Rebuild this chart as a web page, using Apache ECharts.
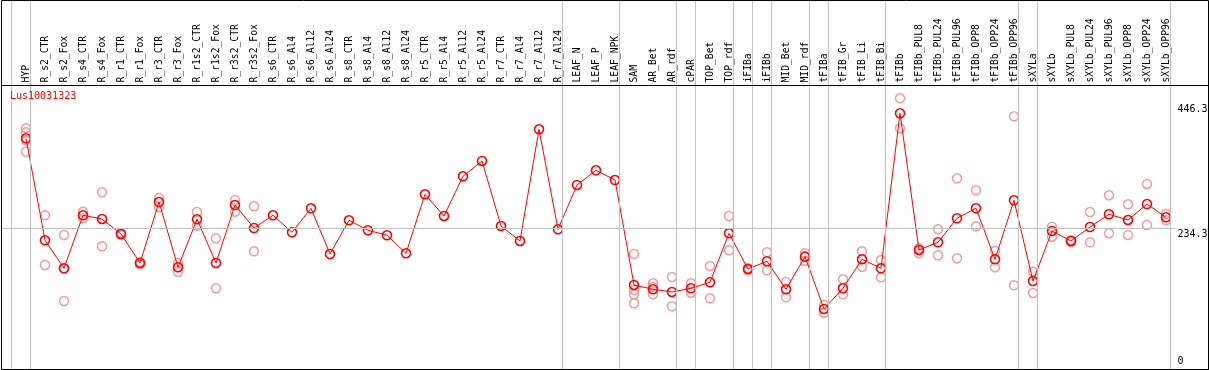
<!DOCTYPE html>
<html>
<head>
<meta charset="utf-8">
<script src="https://cdn.jsdelivr.net/npm/echarts@6/dist/echarts.min.js"></script>
<style>
  html, body { margin: 0; padding: 0; background: #fff; }
  #chart { width: 1209px; height: 370px; }
</style>
</head>
<body>
<div id="chart"></div>
<script>
// ---------------- data ----------------
const geneName = 'Lus10031323';

const categories = [
  'HYP', 'R_s2_CTR', 'R_s2_Fox', 'R_s4_CTR', 'R_s4_Fox', 'R_r1_CTR', 'R_r1_Fox', 'R_r3_CTR', 'R_r3_Fox',
  'R_r1s2_CTR', 'R_r1s2_Fox', 'R_r3s2_CTR', 'R_r3s2_Fox', 'R_s6_CTR', 'R_s6_Al4', 'R_s6_Al12', 'R_s6_Al24',
  'R_s8_CTR', 'R_s8_Al4', 'R_s8_Al12', 'R_s8_Al24', 'R_r5_CTR', 'R_r5_Al4', 'R_r5_Al12', 'R_r5_Al24',
  'R_r7_CTR', 'R_r7_Al4', 'R_r7_Al12', 'R_r7_Al24', 'LEAF_N', 'LEAF_P', 'LEAF_NPK', 'SAM', 'AR_Bet', 'AR_rdf',
  'cPAR', 'TOP_Bet', 'TOP_rdf', 'iFIBa', 'iFIBb', 'MID_Bet', 'MID_rdf', 'tFIBa', 'tFIB_Gr', 'tFIB_Li', 'tFIB_Bi',
  'tFIBb', 'tFIBb_PUL8', 'tFIBb_PUL24', 'tFIBb_PUL96', 'tFIBb_OPP8', 'tFIBb_OPP24', 'tFIBb_OPP96',
  'sXYLa', 'sXYLb', 'sXYLb_PUL8', 'sXYLb_PUL24', 'sXYLb_PUL96', 'sXYLb_OPP8', 'sXYLb_OPP24', 'sXYLb_OPP96'
];

const meanValues = [
  386.9, 213.9, 166.4, 256.3, 250.0, 224.6, 175.4, 278.8, 168.1,
  249.5, 175.4, 273.7, 234.7, 256.3, 227.4, 268.1, 190.6,
  247.8, 230.8, 222.4, 191.8, 291.9, 255.1, 322.4, 348.4,
  238.1, 212.7, 402.1, 232.5, 307.7, 332.6, 316.1, 138.1, 130.8, 126.2,
  132.5, 142.6, 225.7, 165.2, 178.3, 130.8, 186.1, 97.4, 132.5, 181.6, 166.4,
  429.3, 197.4, 210.5, 251.2, 268.1, 181.6, 281.7,
  144.8, 229.6, 212.7, 236.4, 258.0, 248.3, 275.4, 252.9
];

const replicateValues = [
  [404, 397, 383, 364], [256.3, 172.0], [222.9, 110.9, 166], [262.4, 251.2], [295.3, 203.7],
  [226, 223], [177, 173], [286.1, 269.8], [175.4, 160.1],
  [261.9, 238.6], [217.3, 132.5], [282.2, 262.4], [271.5, 195.2], [], [], [], [],
  [], [], [], [], [], [], [], [],
  [], [], [], [], [], [], [], [190.6, 129.6, 122.3, 107.0], [140.9, 122.3, 135], [151.6, 101.9],
  [140.9, 125.0], [170.3, 115.5], [255.1, 196.9], [167, 163], [193.5, 163.0], [143.1, 117.2], [191.8, 179.3],
  [104.1, 91.1], [147.7, 122.3], [195.2, 169.1], [180.5, 151.1],
  [454.7, 403.8], [200.3, 191.8], [232.5, 188.4], [319.0, 183.3], [298.7, 237.6], [195.7, 168.1], [424.2, 137.5],
  [160.6, 124.5], [236.9, 220.0], [214, 211], [261.9, 210.5], [290.2, 225.7], [274.9, 222.9], [309.4, 239.8], [258.5, 247.8]
];

// y tick labels shown on the right (the middle one carries a grid line)
const yTickValues = [0, 234.3, 446.3];

// last category of each group (a separator follows it); -1 = before first
const groupEnds = [-1, 0, 28, 31, 34, 35, 37, 38, 39, 41, 42, 45, 52, 53, 60];

// ---------------- layout / style ----------------
const FONT = '"DejaVu Sans Mono", "Liberation Mono", monospace';
const STEP = 19;                 // px per category
const FIRST_X = 26;              // px of first category centre
const PLOT_LEFT = 1.5, PLOT_RIGHT = 0.5;
const PLOT_W = 1209 - PLOT_LEFT - PLOT_RIGHT;
const XMIN = -(FIRST_X - PLOT_LEFT) / STEP;
const XMAX = XMIN + PLOT_W / STEP;
const YMIN = -5.26, YMAX = 476.4;
const SEP_OFFSET = 4.5 / STEP;
const CHAR_W = 6.02;

const meanData = meanValues.map((v, i) => [i, v]);
const repData = [];
replicateValues.forEach((arr, i) => arr.forEach(v => repData.push([i, v])));

const sepLines = groupEnds.map(g => ({ xAxis: g + SEP_OFFSET }));

const maxLabelLen = Math.max(...yTickValues.map(v => String(v).length));
const tickMarks = yTickValues.map((v, k) => {
  const isMid = k === 1;
  const isZero = v === 0;
  const txt = String(v);
  return {
    yAxis: v,
    lineStyle: { color: isMid ? '#c0c0c0' : 'rgba(0,0,0,0)', width: 1, type: 'solid' },
    label: {
      show: true,
      formatter: txt,
      position: isZero ? 'insideEndTop' : 'insideEndBottom',
      distance: [1, 0],
      color: '#000',
      fontFamily: FONT,
      fontSize: 10,
      backgroundColor: isMid ? '#fff' : 'rgba(0,0,0,0)',
      padding: [1, (maxLabelLen - txt.length) * CHAR_W, 0, 2]
    }
  };
});

const chart = echarts.init(document.getElementById('chart'), null, { renderer: 'canvas' });

chart.setOption({
  animation: false,
  backgroundColor: '#fff',
  title: {
    text: geneName,
    left: 10,
    top: 91,
    padding: 0,
    textStyle: { color: '#ff0000', fontFamily: FONT, fontSize: 10, fontWeight: 'normal' }
  },
  grid: [
    { left: PLOT_LEFT, right: PLOT_RIGHT, top: 0.5, bottom: 0.5, show: true, borderColor: '#000', borderWidth: 1, backgroundColor: 'transparent', z: 10 },
    { left: PLOT_LEFT, right: PLOT_RIGHT, top: 85.5, bottom: 0.5, show: true, borderColor: '#000', borderWidth: 1, backgroundColor: 'transparent', z: 10 },
    { left: FIRST_X - STEP / 2, width: STEP * categories.length, top: 0, height: 85.5, show: false }
  ],
  xAxis: [
    { type: 'value', gridIndex: 0, min: XMIN, max: XMAX, show: false },
    { type: 'value', gridIndex: 1, min: XMIN, max: XMAX, show: false },
    {
      type: 'category', gridIndex: 2, data: categories, position: 'bottom', boundaryGap: true,
      axisLine: { show: false }, axisTick: { show: false }, splitLine: { show: false },
      axisLabel: { interval: 0, inside: true, rotate: 90, margin: 3, color: '#000', fontFamily: FONT, fontSize: 9.7 }
    }
  ],
  yAxis: [
    { type: 'value', gridIndex: 0, min: 0, max: 1, show: false },
    { type: 'value', gridIndex: 1, min: YMIN, max: YMAX, show: false },
    { type: 'value', gridIndex: 2, min: 0, max: 1, show: false }
  ],
  series: [
    {
      type: 'line', xAxisIndex: 0, yAxisIndex: 0, data: [], silent: true, z: 1,
      markLine: {
        silent: true, symbol: ['none', 'none'], animation: false,
        lineStyle: { color: '#c0c0c0', width: 1, type: 'solid' },
        label: { show: false },
        data: sepLines
      }
    },
    {
      type: 'line', xAxisIndex: 1, yAxisIndex: 1, data: [], silent: true, z: 2,
      markLine: {
        silent: true, symbol: ['none', 'none'], animation: false,
        data: tickMarks
      }
    },
    {
      name: 'replicates', type: 'scatter', xAxisIndex: 1, yAxisIndex: 1, data: repData, z: 3,
      symbol: 'circle', symbolSize: 9,
      itemStyle: { color: 'rgba(0,0,0,0)', borderColor: '#f09c9c', borderWidth: 1.5, opacity: 1 }
    },
    {
      name: geneName, type: 'line', xAxisIndex: 1, yAxisIndex: 1, data: meanData, z: 4,
      symbol: 'circle', symbolSize: 9, showAllSymbol: true,
      lineStyle: { color: '#ff0000', width: 1 },
      itemStyle: { color: 'rgba(0,0,0,0)', borderColor: '#ff0000', borderWidth: 1.6 }
    }
  ]
});
</script>
</body>
</html>
